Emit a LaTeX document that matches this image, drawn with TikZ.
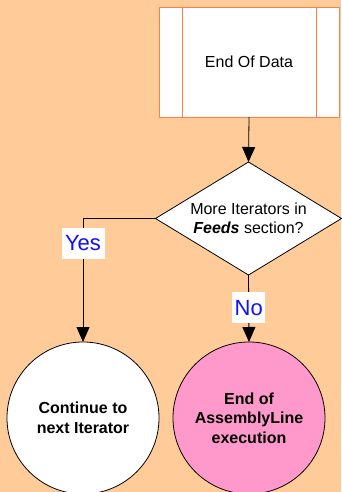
\documentclass[tikz,border=0pt]{standalone}
\usepackage{fontspec}
\setmainfont{Liberation Sans}
\usetikzlibrary{shapes.geometric,arrows.meta}
\definecolor{peach}{HTML}{FFCC99}
\definecolor{procorange}{HTML}{FF8040}
\definecolor{endpink}{HTML}{FF99CC}
\definecolor{labelblue}{HTML}{1010FF}
\begin{document}
\begin{tikzpicture}[x=1pt,y=-1pt,
  every node/.style={font=\fontsize{16}{19.5}\selectfont, outer sep=0pt},
  procbox/.style={draw=procorange, line width=0.9pt, fill=white, rectangle,
     minimum width=180pt, minimum height=110pt, inner sep=0pt},
  decision/.style={draw=black, line width=0.8pt, fill=white, diamond, aspect=1.65,
     minimum width=186pt, minimum height=113pt, inner sep=0pt, align=center},
  terminal/.style={draw=black, line width=0.8pt, circle, minimum size=152pt,
     inner sep=0pt, align=center, font=\fontsize{16}{19.5}\selectfont\bfseries},
  flow/.style={draw=black, line width=0.8pt, -{Triangle[length=15pt,width=13pt]}},
  branchlabel/.style={fill=white, text=labelblue, inner sep=0pt,
     minimum height=31pt, font=\fontsize{22}{22}\selectfont}
]
\fill[peach] (0,0) rectangle (341,492);
\useasboundingbox (0,0) rectangle (341,492);

\node[procbox] (box) at (249,62) {End Of Data};
\draw[procorange, line width=0.9pt] ([xshift=23pt]box.north west) -- ([xshift=23pt]box.south west);
\draw[procorange, line width=0.9pt] ([xshift=-23pt]box.north east) -- ([xshift=-23pt]box.south east);

\node[decision] (dia) at (248.5,218.5) {More Iterators in\\\textbf{\textit{Feeds}} section?};

\node[terminal, fill=white] (cont) at (83,418) {Continue to\\next Iterator};
\node[terminal, fill=endpink] (endal) at (249,418) {End of\\AssemblyLine\\execution};

\draw[flow] (box.south) -- (dia.north);
\draw[flow] (dia.west) -| node[branchlabel, pos=0.6, minimum width=43pt] (yes) {Yes} (cont.north);
\draw[flow] (dia.south) -- node[branchlabel, pos=0.49, minimum width=33pt] (no) {No} (endal.north);
\end{tikzpicture}
\end{document}
